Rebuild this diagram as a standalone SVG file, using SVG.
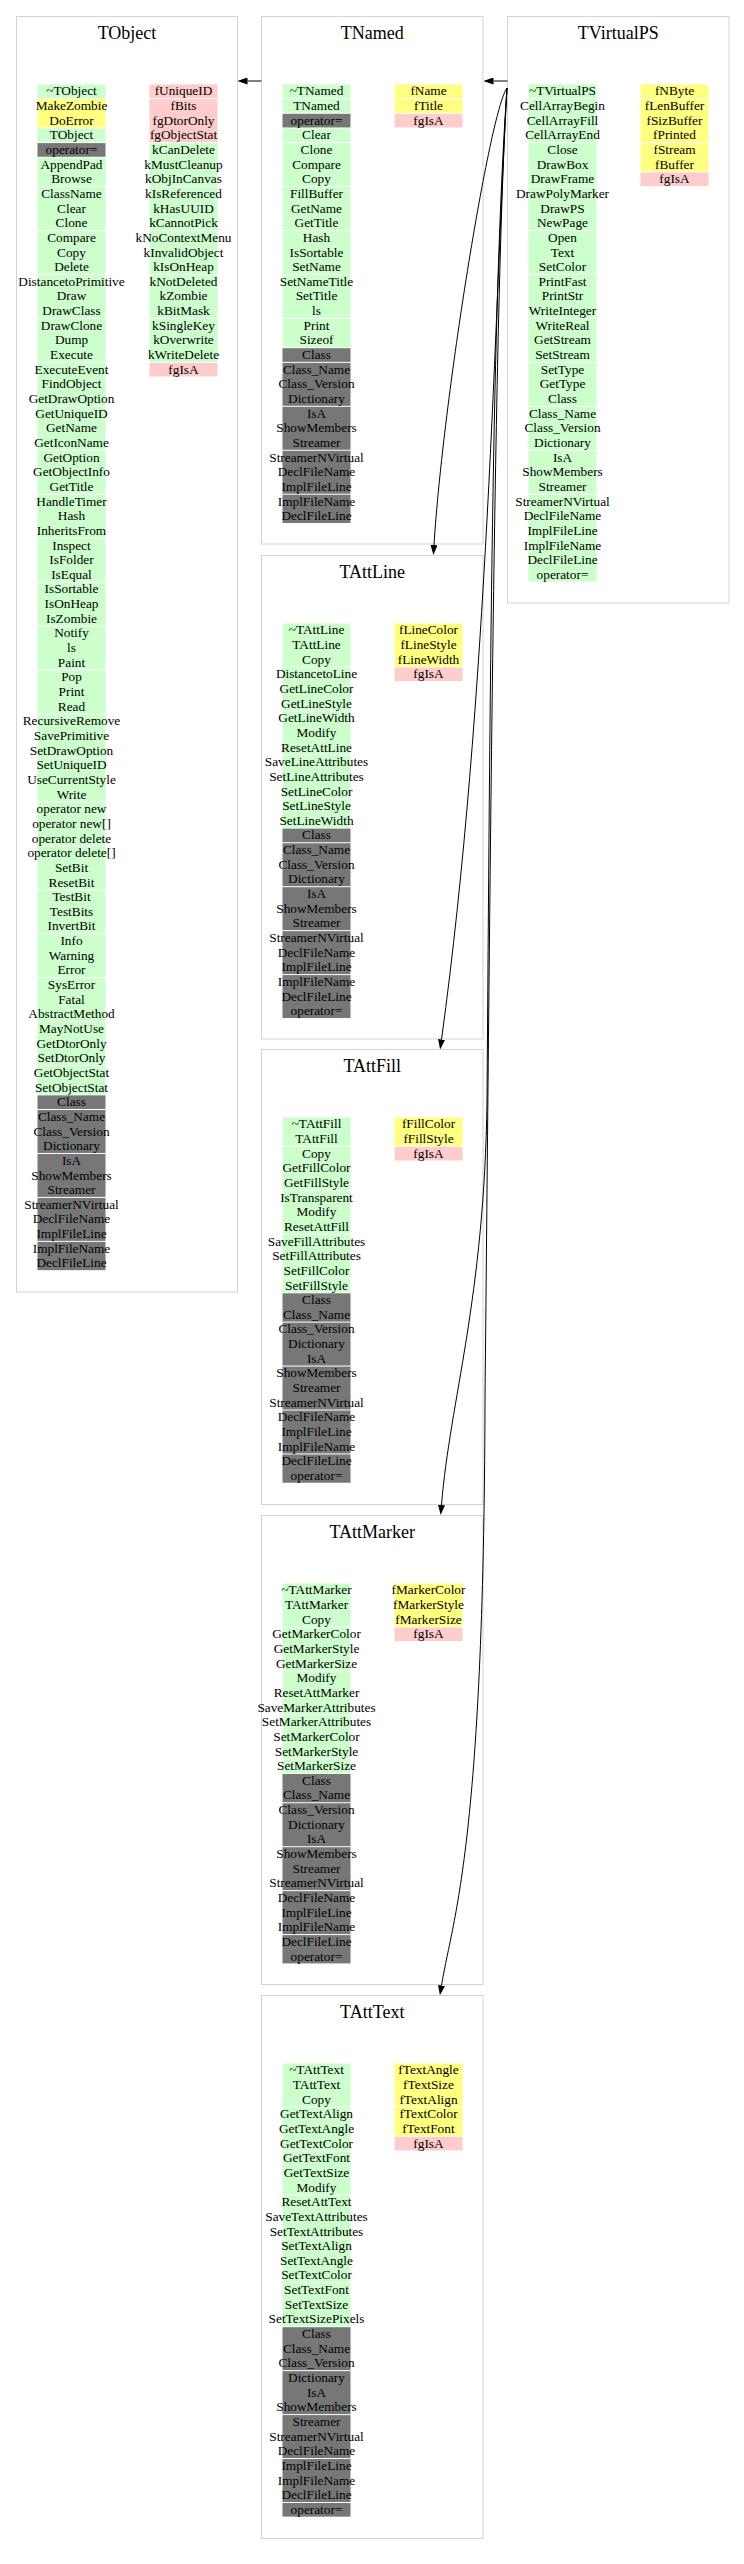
<svg xmlns="http://www.w3.org/2000/svg" width="744" height="2564" viewBox="0 0 744 2564">
<style>
.bg{fill:#ffffff}
.box{fill:#ffffff;stroke:#d3d3d3;stroke-width:1}
.title{font-family:"Liberation Serif","Times New Roman",serif;font-size:18px;text-anchor:middle;fill:#000}
.m{font-family:"Liberation Serif","Times New Roman",serif;font-size:13.3px;text-anchor:middle;fill:#000}
.g{fill:#ccffcc}
.y{fill:#ffff80}
.p{fill:#ffcccc}
.d{fill:#777777}
.e{fill:none;stroke:#000;stroke-width:1}
</style>
<defs>
<marker id="arr" viewBox="0 0 10 7" refX="0" refY="3.5" markerWidth="10" markerHeight="7" markerUnits="userSpaceOnUse" orient="auto">
<path d="M0,0 L10,3.5 L0,7 z" fill="#000"/>
</marker>
</defs>
<rect class="bg" x="0" y="0" width="744" height="2564"/>

<g id="TObject" transform="translate(16.5,16.5)">
<rect class="box" x="0" y="0" width="221" height="1275.5"/>
<text class="title" x="110.5" y="22.5">TObject</text>
<rect class="g" x="21" y="68" width="68" height="13.65"/>
<rect class="y" x="21" y="82.65" width="68" height="28.3"/>
<rect class="g" x="21" y="111.95" width="68" height="13.65"/>
<rect class="d" x="21" y="126.6" width="68" height="13.65"/>
<rect class="g" x="21" y="141.25" width="68" height="28.3"/>
<rect class="g" x="21" y="170.55" width="68" height="42.95"/>
<rect class="g" x="21" y="214.5" width="68" height="42.95"/>
<rect class="g" x="21" y="258.45" width="68" height="42.95"/>
<rect class="g" x="21" y="302.4" width="68" height="42.95"/>
<rect class="g" x="21" y="346.35" width="68" height="42.95"/>
<rect class="g" x="21" y="390.3" width="68" height="42.95"/>
<rect class="g" x="21" y="434.25" width="68" height="42.95"/>
<rect class="g" x="21" y="478.2" width="68" height="42.95"/>
<rect class="g" x="21" y="522.15" width="68" height="42.95"/>
<rect class="g" x="21" y="566.1" width="68" height="42.95"/>
<rect class="g" x="21" y="610.05" width="68" height="42.95"/>
<rect class="g" x="21" y="654" width="68" height="42.95"/>
<rect class="g" x="21" y="697.95" width="68" height="42.95"/>
<rect class="g" x="21" y="741.9" width="68" height="42.95"/>
<rect class="g" x="21" y="785.85" width="68" height="42.95"/>
<rect class="g" x="21" y="829.8" width="68" height="42.95"/>
<rect class="g" x="21" y="873.75" width="68" height="42.95"/>
<rect class="g" x="21" y="917.7" width="68" height="42.95"/>
<rect class="g" x="21" y="961.65" width="68" height="42.95"/>
<rect class="g" x="21" y="1005.6" width="68" height="42.95"/>
<rect class="g" x="21" y="1049.55" width="68" height="28.3"/>
<rect class="d" x="21" y="1078.85" width="68" height="13.65"/>
<rect class="d" x="21" y="1093.5" width="68" height="42.95"/>
<rect class="d" x="21" y="1137.45" width="68" height="42.95"/>
<rect class="d" x="21" y="1181.4" width="68" height="42.95"/>
<rect class="d" x="21" y="1225.35" width="68" height="28.3"/>
<rect class="p" x="133" y="68" width="68" height="13.65"/>
<rect class="p" x="133" y="82.65" width="68" height="42.95"/>
<rect class="g" x="133" y="126.6" width="68" height="42.95"/>
<rect class="g" x="133" y="170.55" width="68" height="42.95"/>
<rect class="g" x="133" y="214.5" width="68" height="42.95"/>
<rect class="g" x="133" y="258.45" width="68" height="42.95"/>
<rect class="g" x="133" y="302.4" width="68" height="42.95"/>
<rect class="p" x="133" y="346.35" width="68" height="13.65"/>
<text class="m" y="78.9"><tspan x="55">~TObject</tspan><tspan x="55" dy="14.65">MakeZombie</tspan><tspan x="55" dy="14.65">DoError</tspan><tspan x="55" dy="14.65">TObject</tspan><tspan x="55" dy="14.65">operator=</tspan><tspan x="55" dy="14.65">AppendPad</tspan><tspan x="55" dy="14.65">Browse</tspan><tspan x="55" dy="14.65">ClassName</tspan><tspan x="55" dy="14.65">Clear</tspan><tspan x="55" dy="14.65">Clone</tspan><tspan x="55" dy="14.65">Compare</tspan><tspan x="55" dy="14.65">Copy</tspan><tspan x="55" dy="14.65">Delete</tspan><tspan x="55" dy="14.65">DistancetoPrimitive</tspan><tspan x="55" dy="14.65">Draw</tspan><tspan x="55" dy="14.65">DrawClass</tspan><tspan x="55" dy="14.65">DrawClone</tspan><tspan x="55" dy="14.65">Dump</tspan><tspan x="55" dy="14.65">Execute</tspan><tspan x="55" dy="14.65">ExecuteEvent</tspan><tspan x="55" dy="14.65">FindObject</tspan><tspan x="55" dy="14.65">GetDrawOption</tspan><tspan x="55" dy="14.65">GetUniqueID</tspan><tspan x="55" dy="14.65">GetName</tspan><tspan x="55" dy="14.65">GetIconName</tspan><tspan x="55" dy="14.65">GetOption</tspan><tspan x="55" dy="14.65">GetObjectInfo</tspan><tspan x="55" dy="14.65">GetTitle</tspan><tspan x="55" dy="14.65">HandleTimer</tspan><tspan x="55" dy="14.65">Hash</tspan><tspan x="55" dy="14.65">InheritsFrom</tspan><tspan x="55" dy="14.65">Inspect</tspan><tspan x="55" dy="14.65">IsFolder</tspan><tspan x="55" dy="14.65">IsEqual</tspan><tspan x="55" dy="14.65">IsSortable</tspan><tspan x="55" dy="14.65">IsOnHeap</tspan><tspan x="55" dy="14.65">IsZombie</tspan><tspan x="55" dy="14.65">Notify</tspan><tspan x="55" dy="14.65">ls</tspan><tspan x="55" dy="14.65">Paint</tspan><tspan x="55" dy="14.65">Pop</tspan><tspan x="55" dy="14.65">Print</tspan><tspan x="55" dy="14.65">Read</tspan><tspan x="55" dy="14.65">RecursiveRemove</tspan><tspan x="55" dy="14.65">SavePrimitive</tspan><tspan x="55" dy="14.65">SetDrawOption</tspan><tspan x="55" dy="14.65">SetUniqueID</tspan><tspan x="55" dy="14.65">UseCurrentStyle</tspan><tspan x="55" dy="14.65">Write</tspan><tspan x="55" dy="14.65">operator new</tspan><tspan x="55" dy="14.65">operator new[]</tspan><tspan x="55" dy="14.65">operator delete</tspan><tspan x="55" dy="14.65">operator delete[]</tspan><tspan x="55" dy="14.65">SetBit</tspan><tspan x="55" dy="14.65">ResetBit</tspan><tspan x="55" dy="14.65">TestBit</tspan><tspan x="55" dy="14.65">TestBits</tspan><tspan x="55" dy="14.65">InvertBit</tspan><tspan x="55" dy="14.65">Info</tspan><tspan x="55" dy="14.65">Warning</tspan><tspan x="55" dy="14.65">Error</tspan><tspan x="55" dy="14.65">SysError</tspan><tspan x="55" dy="14.65">Fatal</tspan><tspan x="55" dy="14.65">AbstractMethod</tspan><tspan x="55" dy="14.65">MayNotUse</tspan><tspan x="55" dy="14.65">GetDtorOnly</tspan><tspan x="55" dy="14.65">SetDtorOnly</tspan><tspan x="55" dy="14.65">GetObjectStat</tspan><tspan x="55" dy="14.65">SetObjectStat</tspan><tspan x="55" dy="14.65">Class</tspan><tspan x="55" dy="14.65">Class_Name</tspan><tspan x="55" dy="14.65">Class_Version</tspan><tspan x="55" dy="14.65">Dictionary</tspan><tspan x="55" dy="14.65">IsA</tspan><tspan x="55" dy="14.65">ShowMembers</tspan><tspan x="55" dy="14.65">Streamer</tspan><tspan x="55" dy="14.65">StreamerNVirtual</tspan><tspan x="55" dy="14.65">DeclFileName</tspan><tspan x="55" dy="14.65">ImplFileLine</tspan><tspan x="55" dy="14.65">ImplFileName</tspan><tspan x="55" dy="14.65">DeclFileLine</tspan></text>
<text class="m" y="78.9"><tspan x="167">fUniqueID</tspan><tspan x="167" dy="14.65">fBits</tspan><tspan x="167" dy="14.65">fgDtorOnly</tspan><tspan x="167" dy="14.65">fgObjectStat</tspan><tspan x="167" dy="14.65">kCanDelete</tspan><tspan x="167" dy="14.65">kMustCleanup</tspan><tspan x="167" dy="14.65">kObjInCanvas</tspan><tspan x="167" dy="14.65">kIsReferenced</tspan><tspan x="167" dy="14.65">kHasUUID</tspan><tspan x="167" dy="14.65">kCannotPick</tspan><tspan x="167" dy="14.65">kNoContextMenu</tspan><tspan x="167" dy="14.65">kInvalidObject</tspan><tspan x="167" dy="14.65">kIsOnHeap</tspan><tspan x="167" dy="14.65">kNotDeleted</tspan><tspan x="167" dy="14.65">kZombie</tspan><tspan x="167" dy="14.65">kBitMask</tspan><tspan x="167" dy="14.65">kSingleKey</tspan><tspan x="167" dy="14.65">kOverwrite</tspan><tspan x="167" dy="14.65">kWriteDelete</tspan><tspan x="167" dy="14.65">fgIsA</tspan></text>
</g>

<g id="TNamed" transform="translate(261.5,16.5)">
<rect class="box" x="0" y="0" width="221.5" height="527.5"/>
<text class="title" x="110.75" y="22.5">TNamed</text>
<rect class="g" x="21" y="68" width="68" height="13.65"/>
<rect class="g" x="21" y="82.65" width="68" height="13.65"/>
<rect class="d" x="21" y="97.3" width="68" height="13.65"/>
<rect class="g" x="21" y="111.95" width="68" height="13.65"/>
<rect class="g" x="21" y="126.6" width="68" height="42.95"/>
<rect class="g" x="21" y="170.55" width="68" height="42.95"/>
<rect class="g" x="21" y="214.5" width="68" height="42.95"/>
<rect class="g" x="21" y="258.45" width="68" height="42.95"/>
<rect class="g" x="21" y="302.4" width="68" height="28.3"/>
<rect class="d" x="21" y="331.7" width="68" height="13.65"/>
<rect class="d" x="21" y="346.35" width="68" height="42.95"/>
<rect class="d" x="21" y="390.3" width="68" height="42.95"/>
<rect class="d" x="21" y="434.25" width="68" height="42.95"/>
<rect class="d" x="21" y="478.2" width="68" height="28.3"/>
<rect class="y" x="133" y="68" width="68" height="13.65"/>
<rect class="y" x="133" y="82.65" width="68" height="13.65"/>
<rect class="p" x="133" y="97.3" width="68" height="13.65"/>
<text class="m" y="78.9"><tspan x="55">~TNamed</tspan><tspan x="55" dy="14.65">TNamed</tspan><tspan x="55" dy="14.65">operator=</tspan><tspan x="55" dy="14.65">Clear</tspan><tspan x="55" dy="14.65">Clone</tspan><tspan x="55" dy="14.65">Compare</tspan><tspan x="55" dy="14.65">Copy</tspan><tspan x="55" dy="14.65">FillBuffer</tspan><tspan x="55" dy="14.65">GetName</tspan><tspan x="55" dy="14.65">GetTitle</tspan><tspan x="55" dy="14.65">Hash</tspan><tspan x="55" dy="14.65">IsSortable</tspan><tspan x="55" dy="14.65">SetName</tspan><tspan x="55" dy="14.65">SetNameTitle</tspan><tspan x="55" dy="14.65">SetTitle</tspan><tspan x="55" dy="14.65">ls</tspan><tspan x="55" dy="14.65">Print</tspan><tspan x="55" dy="14.65">Sizeof</tspan><tspan x="55" dy="14.65">Class</tspan><tspan x="55" dy="14.65">Class_Name</tspan><tspan x="55" dy="14.65">Class_Version</tspan><tspan x="55" dy="14.65">Dictionary</tspan><tspan x="55" dy="14.65">IsA</tspan><tspan x="55" dy="14.65">ShowMembers</tspan><tspan x="55" dy="14.65">Streamer</tspan><tspan x="55" dy="14.65">StreamerNVirtual</tspan><tspan x="55" dy="14.65">DeclFileName</tspan><tspan x="55" dy="14.65">ImplFileLine</tspan><tspan x="55" dy="14.65">ImplFileName</tspan><tspan x="55" dy="14.65">DeclFileLine</tspan></text>
<text class="m" y="78.9"><tspan x="167">fName</tspan><tspan x="167" dy="14.65">fTitle</tspan><tspan x="167" dy="14.65">fgIsA</tspan></text>
</g>

<g id="TVirtualPS" transform="translate(507.5,16.5)">
<rect class="box" x="0" y="0" width="221.5" height="586.5"/>
<text class="title" x="110.75" y="22.5">TVirtualPS</text>
<rect class="g" x="21" y="68" width="68" height="13.65"/>
<rect class="g" x="21" y="82.65" width="68" height="42.95"/>
<rect class="g" x="21" y="126.6" width="68" height="42.95"/>
<rect class="g" x="21" y="170.55" width="68" height="42.95"/>
<rect class="g" x="21" y="214.5" width="68" height="42.95"/>
<rect class="g" x="21" y="258.45" width="68" height="42.95"/>
<rect class="g" x="21" y="302.4" width="68" height="42.95"/>
<rect class="g" x="21" y="346.35" width="68" height="42.95"/>
<rect class="g" x="21" y="390.3" width="68" height="42.95"/>
<rect class="g" x="21" y="434.25" width="68" height="42.95"/>
<rect class="g" x="21" y="478.2" width="68" height="42.95"/>
<rect class="g" x="21" y="522.15" width="68" height="42.95"/>
<rect class="y" x="133" y="68" width="68" height="13.65"/>
<rect class="y" x="133" y="82.65" width="68" height="42.95"/>
<rect class="y" x="133" y="126.6" width="68" height="28.3"/>
<rect class="p" x="133" y="155.9" width="68" height="13.65"/>
<text class="m" y="78.9"><tspan x="55">~TVirtualPS</tspan><tspan x="55" dy="14.65">CellArrayBegin</tspan><tspan x="55" dy="14.65">CellArrayFill</tspan><tspan x="55" dy="14.65">CellArrayEnd</tspan><tspan x="55" dy="14.65">Close</tspan><tspan x="55" dy="14.65">DrawBox</tspan><tspan x="55" dy="14.65">DrawFrame</tspan><tspan x="55" dy="14.65">DrawPolyMarker</tspan><tspan x="55" dy="14.65">DrawPS</tspan><tspan x="55" dy="14.65">NewPage</tspan><tspan x="55" dy="14.65">Open</tspan><tspan x="55" dy="14.65">Text</tspan><tspan x="55" dy="14.65">SetColor</tspan><tspan x="55" dy="14.65">PrintFast</tspan><tspan x="55" dy="14.65">PrintStr</tspan><tspan x="55" dy="14.65">WriteInteger</tspan><tspan x="55" dy="14.65">WriteReal</tspan><tspan x="55" dy="14.65">GetStream</tspan><tspan x="55" dy="14.65">SetStream</tspan><tspan x="55" dy="14.65">SetType</tspan><tspan x="55" dy="14.65">GetType</tspan><tspan x="55" dy="14.65">Class</tspan><tspan x="55" dy="14.65">Class_Name</tspan><tspan x="55" dy="14.65">Class_Version</tspan><tspan x="55" dy="14.65">Dictionary</tspan><tspan x="55" dy="14.65">IsA</tspan><tspan x="55" dy="14.65">ShowMembers</tspan><tspan x="55" dy="14.65">Streamer</tspan><tspan x="55" dy="14.65">StreamerNVirtual</tspan><tspan x="55" dy="14.65">DeclFileName</tspan><tspan x="55" dy="14.65">ImplFileLine</tspan><tspan x="55" dy="14.65">ImplFileName</tspan><tspan x="55" dy="14.65">DeclFileLine</tspan><tspan x="55" dy="14.65">operator=</tspan></text>
<text class="m" y="78.9"><tspan x="167">fNByte</tspan><tspan x="167" dy="14.65">fLenBuffer</tspan><tspan x="167" dy="14.65">fSizBuffer</tspan><tspan x="167" dy="14.65">fPrinted</tspan><tspan x="167" dy="14.65">fStream</tspan><tspan x="167" dy="14.65">fBuffer</tspan><tspan x="167" dy="14.65">fgIsA</tspan></text>
</g>

<g id="TAttLine" transform="translate(261.5,555.5)">
<rect class="box" x="0" y="0" width="221.5" height="483.5"/>
<text class="title" x="110.75" y="22.5">TAttLine</text>
<rect class="g" x="21" y="68" width="68" height="42.95"/>
<rect class="g" x="21" y="111.95" width="68" height="42.95"/>
<rect class="g" x="21" y="155.9" width="68" height="42.95"/>
<rect class="g" x="21" y="199.85" width="68" height="42.95"/>
<rect class="g" x="21" y="243.8" width="68" height="28.3"/>
<rect class="d" x="21" y="273.1" width="68" height="13.65"/>
<rect class="d" x="21" y="287.75" width="68" height="42.95"/>
<rect class="d" x="21" y="331.7" width="68" height="42.95"/>
<rect class="d" x="21" y="375.65" width="68" height="42.95"/>
<rect class="d" x="21" y="419.6" width="68" height="42.95"/>
<rect class="y" x="133" y="68" width="68" height="42.95"/>
<rect class="p" x="133" y="111.95" width="68" height="13.65"/>
<text class="m" y="78.9"><tspan x="55">~TAttLine</tspan><tspan x="55" dy="14.65">TAttLine</tspan><tspan x="55" dy="14.65">Copy</tspan><tspan x="55" dy="14.65">DistancetoLine</tspan><tspan x="55" dy="14.65">GetLineColor</tspan><tspan x="55" dy="14.65">GetLineStyle</tspan><tspan x="55" dy="14.65">GetLineWidth</tspan><tspan x="55" dy="14.65">Modify</tspan><tspan x="55" dy="14.65">ResetAttLine</tspan><tspan x="55" dy="14.65">SaveLineAttributes</tspan><tspan x="55" dy="14.65">SetLineAttributes</tspan><tspan x="55" dy="14.65">SetLineColor</tspan><tspan x="55" dy="14.65">SetLineStyle</tspan><tspan x="55" dy="14.65">SetLineWidth</tspan><tspan x="55" dy="14.65">Class</tspan><tspan x="55" dy="14.65">Class_Name</tspan><tspan x="55" dy="14.65">Class_Version</tspan><tspan x="55" dy="14.65">Dictionary</tspan><tspan x="55" dy="14.65">IsA</tspan><tspan x="55" dy="14.65">ShowMembers</tspan><tspan x="55" dy="14.65">Streamer</tspan><tspan x="55" dy="14.65">StreamerNVirtual</tspan><tspan x="55" dy="14.65">DeclFileName</tspan><tspan x="55" dy="14.65">ImplFileLine</tspan><tspan x="55" dy="14.65">ImplFileName</tspan><tspan x="55" dy="14.65">DeclFileLine</tspan><tspan x="55" dy="14.65">operator=</tspan></text>
<text class="m" y="78.9"><tspan x="167">fLineColor</tspan><tspan x="167" dy="14.65">fLineStyle</tspan><tspan x="167" dy="14.65">fLineWidth</tspan><tspan x="167" dy="14.65">fgIsA</tspan></text>
</g>

<g id="TAttFill" transform="translate(261.5,1049.5)">
<rect class="box" x="0" y="0" width="221.5" height="455"/>
<text class="title" x="110.75" y="22.5">TAttFill</text>
<rect class="g" x="21" y="68" width="68" height="28.3"/>
<rect class="g" x="21" y="97.3" width="68" height="42.95"/>
<rect class="g" x="21" y="141.25" width="68" height="42.95"/>
<rect class="g" x="21" y="185.2" width="68" height="42.95"/>
<rect class="g" x="21" y="229.15" width="68" height="13.65"/>
<rect class="d" x="21" y="243.8" width="68" height="28.3"/>
<rect class="d" x="21" y="273.1" width="68" height="42.95"/>
<rect class="d" x="21" y="317.05" width="68" height="42.95"/>
<rect class="d" x="21" y="361" width="68" height="42.95"/>
<rect class="d" x="21" y="404.95" width="68" height="28.3"/>
<rect class="y" x="133" y="68" width="68" height="28.3"/>
<rect class="p" x="133" y="97.3" width="68" height="13.65"/>
<text class="m" y="78.9"><tspan x="55">~TAttFill</tspan><tspan x="55" dy="14.65">TAttFill</tspan><tspan x="55" dy="14.65">Copy</tspan><tspan x="55" dy="14.65">GetFillColor</tspan><tspan x="55" dy="14.65">GetFillStyle</tspan><tspan x="55" dy="14.65">IsTransparent</tspan><tspan x="55" dy="14.65">Modify</tspan><tspan x="55" dy="14.65">ResetAttFill</tspan><tspan x="55" dy="14.65">SaveFillAttributes</tspan><tspan x="55" dy="14.65">SetFillAttributes</tspan><tspan x="55" dy="14.65">SetFillColor</tspan><tspan x="55" dy="14.65">SetFillStyle</tspan><tspan x="55" dy="14.65">Class</tspan><tspan x="55" dy="14.65">Class_Name</tspan><tspan x="55" dy="14.65">Class_Version</tspan><tspan x="55" dy="14.65">Dictionary</tspan><tspan x="55" dy="14.65">IsA</tspan><tspan x="55" dy="14.65">ShowMembers</tspan><tspan x="55" dy="14.65">Streamer</tspan><tspan x="55" dy="14.65">StreamerNVirtual</tspan><tspan x="55" dy="14.65">DeclFileName</tspan><tspan x="55" dy="14.65">ImplFileLine</tspan><tspan x="55" dy="14.65">ImplFileName</tspan><tspan x="55" dy="14.65">DeclFileLine</tspan><tspan x="55" dy="14.65">operator=</tspan></text>
<text class="m" y="78.9"><tspan x="167">fFillColor</tspan><tspan x="167" dy="14.65">fFillStyle</tspan><tspan x="167" dy="14.65">fgIsA</tspan></text>
</g>

<g id="TAttMarker" transform="translate(261.5,1515.5)">
<rect class="box" x="0" y="0" width="221.5" height="469"/>
<text class="title" x="110.75" y="22.5">TAttMarker</text>
<rect class="g" x="21" y="68" width="68" height="42.95"/>
<rect class="g" x="21" y="111.95" width="68" height="42.95"/>
<rect class="g" x="21" y="155.9" width="68" height="42.95"/>
<rect class="g" x="21" y="199.85" width="68" height="42.95"/>
<rect class="g" x="21" y="243.8" width="68" height="13.65"/>
<rect class="d" x="21" y="258.45" width="68" height="28.3"/>
<rect class="d" x="21" y="287.75" width="68" height="42.95"/>
<rect class="d" x="21" y="331.7" width="68" height="42.95"/>
<rect class="d" x="21" y="375.65" width="68" height="42.95"/>
<rect class="d" x="21" y="419.6" width="68" height="28.3"/>
<rect class="y" x="133" y="68" width="68" height="42.95"/>
<rect class="p" x="133" y="111.95" width="68" height="13.65"/>
<text class="m" y="78.9"><tspan x="55">~TAttMarker</tspan><tspan x="55" dy="14.65">TAttMarker</tspan><tspan x="55" dy="14.65">Copy</tspan><tspan x="55" dy="14.65">GetMarkerColor</tspan><tspan x="55" dy="14.65">GetMarkerStyle</tspan><tspan x="55" dy="14.65">GetMarkerSize</tspan><tspan x="55" dy="14.65">Modify</tspan><tspan x="55" dy="14.65">ResetAttMarker</tspan><tspan x="55" dy="14.65">SaveMarkerAttributes</tspan><tspan x="55" dy="14.65">SetMarkerAttributes</tspan><tspan x="55" dy="14.65">SetMarkerColor</tspan><tspan x="55" dy="14.65">SetMarkerStyle</tspan><tspan x="55" dy="14.65">SetMarkerSize</tspan><tspan x="55" dy="14.65">Class</tspan><tspan x="55" dy="14.65">Class_Name</tspan><tspan x="55" dy="14.65">Class_Version</tspan><tspan x="55" dy="14.65">Dictionary</tspan><tspan x="55" dy="14.65">IsA</tspan><tspan x="55" dy="14.65">ShowMembers</tspan><tspan x="55" dy="14.65">Streamer</tspan><tspan x="55" dy="14.65">StreamerNVirtual</tspan><tspan x="55" dy="14.65">DeclFileName</tspan><tspan x="55" dy="14.65">ImplFileLine</tspan><tspan x="55" dy="14.65">ImplFileName</tspan><tspan x="55" dy="14.65">DeclFileLine</tspan><tspan x="55" dy="14.65">operator=</tspan></text>
<text class="m" y="78.9"><tspan x="167">fMarkerColor</tspan><tspan x="167" dy="14.65">fMarkerStyle</tspan><tspan x="167" dy="14.65">fMarkerSize</tspan><tspan x="167" dy="14.65">fgIsA</tspan></text>
</g>

<g id="TAttText" transform="translate(261.5,1995.5)">
<rect class="box" x="0" y="0" width="221.5" height="543"/>
<text class="title" x="110.75" y="22.5">TAttText</text>
<rect class="g" x="21" y="68" width="68" height="42.95"/>
<rect class="g" x="21" y="111.95" width="68" height="42.95"/>
<rect class="g" x="21" y="155.9" width="68" height="42.95"/>
<rect class="g" x="21" y="199.85" width="68" height="42.95"/>
<rect class="g" x="21" y="243.8" width="68" height="42.95"/>
<rect class="g" x="21" y="287.75" width="68" height="42.95"/>
<rect class="d" x="21" y="331.7" width="68" height="42.95"/>
<rect class="d" x="21" y="375.65" width="68" height="42.95"/>
<rect class="d" x="21" y="419.6" width="68" height="42.95"/>
<rect class="d" x="21" y="463.55" width="68" height="42.95"/>
<rect class="d" x="21" y="507.5" width="68" height="13.65"/>
<rect class="y" x="133" y="68" width="68" height="42.95"/>
<rect class="y" x="133" y="111.95" width="68" height="28.3"/>
<rect class="p" x="133" y="141.25" width="68" height="13.65"/>
<text class="m" y="78.9"><tspan x="55">~TAttText</tspan><tspan x="55" dy="14.65">TAttText</tspan><tspan x="55" dy="14.65">Copy</tspan><tspan x="55" dy="14.65">GetTextAlign</tspan><tspan x="55" dy="14.65">GetTextAngle</tspan><tspan x="55" dy="14.65">GetTextColor</tspan><tspan x="55" dy="14.65">GetTextFont</tspan><tspan x="55" dy="14.65">GetTextSize</tspan><tspan x="55" dy="14.65">Modify</tspan><tspan x="55" dy="14.65">ResetAttText</tspan><tspan x="55" dy="14.65">SaveTextAttributes</tspan><tspan x="55" dy="14.65">SetTextAttributes</tspan><tspan x="55" dy="14.65">SetTextAlign</tspan><tspan x="55" dy="14.65">SetTextAngle</tspan><tspan x="55" dy="14.65">SetTextColor</tspan><tspan x="55" dy="14.65">SetTextFont</tspan><tspan x="55" dy="14.65">SetTextSize</tspan><tspan x="55" dy="14.65">SetTextSizePixels</tspan><tspan x="55" dy="14.65">Class</tspan><tspan x="55" dy="14.65">Class_Name</tspan><tspan x="55" dy="14.65">Class_Version</tspan><tspan x="55" dy="14.65">Dictionary</tspan><tspan x="55" dy="14.65">IsA</tspan><tspan x="55" dy="14.65">ShowMembers</tspan><tspan x="55" dy="14.65">Streamer</tspan><tspan x="55" dy="14.65">StreamerNVirtual</tspan><tspan x="55" dy="14.65">DeclFileName</tspan><tspan x="55" dy="14.65">ImplFileLine</tspan><tspan x="55" dy="14.65">ImplFileName</tspan><tspan x="55" dy="14.65">DeclFileLine</tspan><tspan x="55" dy="14.65">operator=</tspan></text>
<text class="m" y="78.9"><tspan x="167">fTextAngle</tspan><tspan x="167" dy="14.65">fTextSize</tspan><tspan x="167" dy="14.65">fTextAlign</tspan><tspan x="167" dy="14.65">fTextColor</tspan><tspan x="167" dy="14.65">fTextFont</tspan><tspan x="167" dy="14.65">fgIsA</tspan></text>
</g>

<g id="connectors">
<path class="e" d="M261.5,81 L247.5,81" marker-end="url(#arr)"/>
<path class="e" d="M507.5,81 L493.5,81" marker-end="url(#arr)"/>
<path class="e" d="M507,88 C490,110 443,400 434,545" marker-end="url(#arr)"/>
<path class="e" d="M507,88 C495,300 488,700 441.5,1039.5" marker-end="url(#arr)"/>
<path class="e" d="M507,88 C492,300 490,700 487,1100 C484.5,1300 450,1400 441.5,1505" marker-end="url(#arr)"/>
<path class="e" d="M507,88 C494,300 490,900 485,1400 C484,1850 452,1920 441.5,1985.5" marker-end="url(#arr)"/>
</g>
</svg>
